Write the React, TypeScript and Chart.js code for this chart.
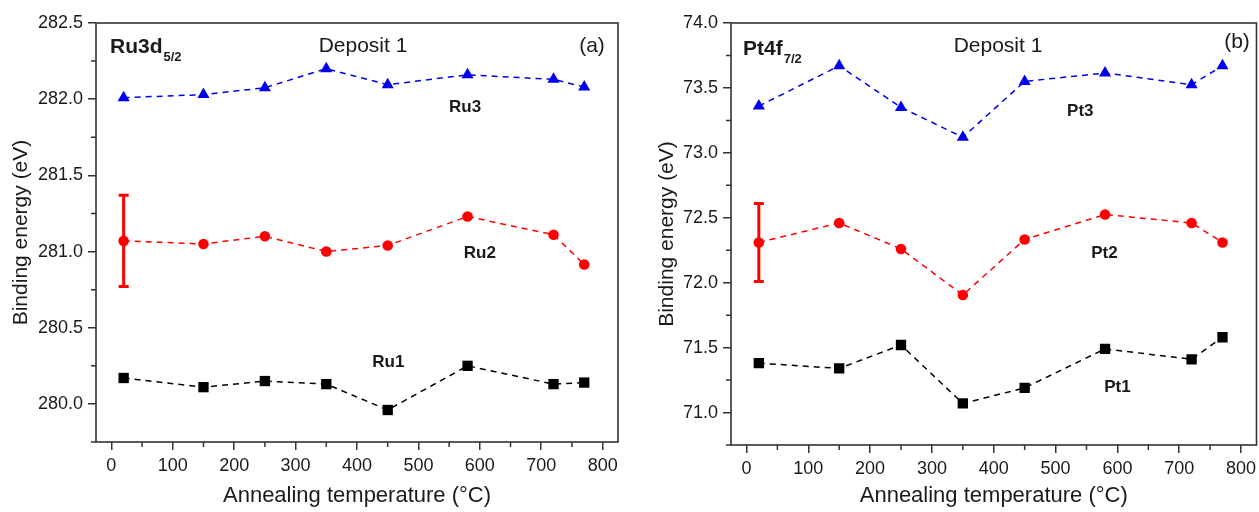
import React, { useEffect, useRef } from 'react';
import { Chart, registerables } from 'chart.js';

Chart.register(...registerables);

const FONT = '"Liberation Sans", Arial, Helvetica, sans-serif';
const TEXT = '#1a1a1a';
const FRAME = '#333333';

// ---------- data ----------
const temps = [20, 150, 250, 350, 450, 580, 720, 770];

const ru1 = [280.17, 280.11, 280.15, 280.13, 279.96, 280.25, 280.13, 280.14];
const ru2 = [281.07, 281.05, 281.1, 281.0, 281.04, 281.23, 281.11, 280.915];
const ru3 = [282.01, 282.03, 282.075, 282.2, 282.095, 282.16, 282.13, 282.08];
const ru2Err = [0.3, 0, 0, 0, 0, 0, 0, 0];

const pt1 = [71.38, 71.34, 71.52, 71.07, 71.19, 71.49, 71.41, 71.58];
const pt2 = [72.31, 72.46, 72.26, 71.905, 72.333, 72.525, 72.46, 72.31];
const pt3 = [73.36, 73.67, 73.35, 73.12, 73.55, 73.615, 73.525, 73.67];
const pt2Err = [0.3, 0, 0, 0, 0, 0, 0, 0];

const xTicks = [0, 100, 200, 300, 400, 500, 600, 700, 800];
const ruYTicks = [280.0, 280.5, 281.0, 281.5, 282.0, 282.5];
const ptYTicks = [71.0, 71.5, 72.0, 72.5, 73.0, 73.5, 74.0];

const xTitle = 'Annealing temperature (°C)';
const yTitle = 'Binding energy (eV)';

type SeriesLabel = { text: string; x: number; y: number };
type Corner = { main: string; sub?: string; dx: number; dy: number; bold?: boolean; align?: 'left' | 'center' };

interface PanelCfg {
  left: number;
  width: number;
  yMin: number;
  yMax: number;
  yTicks: number[];
  s1: number[];
  s2: number[];
  s3: number[];
  err2: number[];
  yAxisWidth: number;
  xAxisHeight: number;
  padRight: number;
  yTitlePad: number;
  labels: SeriesLabel[];
  corners: Corner[];
}

const panels: PanelCfg[] = [
  {
    left: 0,
    width: 630,
    yMin: 279.75,
    yMax: 282.5,
    yTicks: ruYTicks,
    s1: ru1,
    s2: ru2,
    s3: ru3,
    err2: ru2Err,
    yAxisWidth: 96,
    xAxisHeight: 70,
    padRight: 12,
    yTitlePad: 8.4,
    labels: [
      { text: 'Ru3', x: 576, y: 281.948 },
      { text: 'Ru2', x: 600, y: 280.987 },
      { text: 'Ru1', x: 451, y: 280.27 },
    ],
    corners: [
      { main: 'Ru3d', sub: '5/2', dx: 14, dy: 30, bold: true, align: 'left' },
      { main: 'Deposit 1', dx: 267, dy: 29, align: 'center' },
      { main: '(a)', dx: 496, dy: 29, align: 'center' },
    ],
  },
  {
    left: 630,
    width: 629,
    yMin: 70.75,
    yMax: 74.0,
    yTicks: ptYTicks,
    s1: pt1,
    s2: pt2,
    s3: pt3,
    err2: pt2Err,
    yAxisWidth: 101,
    xAxisHeight: 67,
    padRight: 2.5,
    yTitlePad: 24.4,
    labels: [
      { text: 'Pt3', x: 540, y: 73.318 },
      { text: 'Pt2', x: 579, y: 72.225 },
      { text: 'Pt1', x: 600, y: 71.195 },
    ],
    corners: [
      { main: 'Pt4f', sub: '7/2', dx: 12, dy: 32, bold: true, align: 'left' },
      { main: 'Deposit 1', dx: 267, dy: 29, align: 'center' },
      { main: '(b)', dx: 506, dy: 25, align: 'center' },
    ],
  },
];

function makePlugin(cfg: PanelCfg) {
  return {
    id: 'decor',
    beforeDatasetsDraw(chart: any) {
      const { ctx, chartArea: a } = chart;
      const xs = chart.scales.x;
      const ys = chart.scales.y;
      ctx.save();
      ctx.strokeStyle = FRAME;
      ctx.lineWidth = 1.6;
      ctx.strokeRect(a.left, a.top, a.right - a.left, a.bottom - a.top);
      // minor ticks
      ctx.lineWidth = 1.5;
      ctx.beginPath();
      const ystep = cfg.yTicks[1] - cfg.yTicks[0];
      const yMinors: number[] = [];
      cfg.yTicks.forEach((t) => yMinors.push(t - ystep / 2));
      yMinors.push(cfg.yTicks[cfg.yTicks.length - 1] + ystep / 2);
      yMinors.forEach((v) => {
        if (v < cfg.yMin - 1e-9 || v > cfg.yMax + 1e-9) return;
        const py = ys.getPixelForValue(v);
        ctx.moveTo(a.left - 5, py);
        ctx.lineTo(a.left, py);
      });
      const xstep = xTicks[1] - xTicks[0];
      const xMinors: number[] = [];
      xTicks.forEach((t) => xMinors.push(t - xstep / 2));
      xMinors.push(xTicks[xTicks.length - 1] + xstep / 2);
      xMinors.forEach((v) => {
        if (v < xs.min || v > xs.max) return;
        const px = xs.getPixelForValue(v);
        ctx.moveTo(px, a.bottom);
        ctx.lineTo(px, a.bottom + 5);
      });
      ctx.stroke();

      // error bars
      ctx.strokeStyle = '#ff0000';
      ctx.lineWidth = 3;
      cfg.err2.forEach((e, i) => {
        if (!e) return;
        const px = xs.getPixelForValue(temps[i]);
        const top = ys.getPixelForValue(cfg.s2[i] + e);
        const bot = ys.getPixelForValue(cfg.s2[i] - e);
        ctx.beginPath();
        ctx.moveTo(px, top);
        ctx.lineTo(px, bot);
        ctx.moveTo(px - 5, top);
        ctx.lineTo(px + 5, top);
        ctx.moveTo(px - 5, bot);
        ctx.lineTo(px + 5, bot);
        ctx.stroke();
      });
      ctx.restore();
    },
    afterDatasetsDraw(chart: any) {
      const { ctx, chartArea: a } = chart;
      const xs = chart.scales.x;
      const ys = chart.scales.y;
      ctx.save();
      ctx.fillStyle = TEXT;
      ctx.textBaseline = 'middle';
      ctx.textAlign = 'center';
      ctx.font = `bold 17px ${FONT}`;
      cfg.labels.forEach((l) => {
        ctx.fillText(l.text, xs.getPixelForValue(l.x), ys.getPixelForValue(l.y));
      });
      ctx.textBaseline = 'alphabetic';
      cfg.corners.forEach((c) => {
        ctx.font = `${c.bold ? 'bold ' : ''}21px ${FONT}`;
        ctx.textAlign = c.align || 'left';
        const x = a.left + c.dx;
        const y = a.top + c.dy;
        ctx.fillText(c.main, x, y);
        if (c.sub) {
          const w = ctx.measureText(c.main).width;
          ctx.font = `bold 13px ${FONT}`;
          ctx.textAlign = 'left';
          ctx.fillText(c.sub, x + w + 1, y + 8);
        }
      });
      ctx.restore();
    },
  };
}

function Panel({ cfg }: { cfg: PanelCfg }) {
  const ref = useRef<HTMLCanvasElement | null>(null);
  useEffect(() => {
    if (!ref.current) return;
    const ds = (vals: number[], color: string, style: string, radius: number) => ({
      data: temps.map((t, i) => ({ x: t, y: vals[i] })),
      borderColor: color,
      backgroundColor: color,
      borderWidth: 1.5,
      borderDash: [6, 5],
      showLine: true,
      pointStyle: style,
      pointRadius: radius,
      pointBorderWidth: 0,
      pointBackgroundColor: color,
      tension: 0,
    });
    const chart = new Chart(ref.current, {
      type: 'scatter',
      data: {
        datasets: [
          ds(cfg.s1, '#000000', 'rect', 7.3),
          ds(cfg.s2, '#ff0000', 'circle', 5.3),
          ds(cfg.s3, '#0000ee', 'triangle', 7),
        ] as any,
      },
      options: {
        responsive: false,
        animation: false,
        devicePixelRatio: 1,
        layout: { autoPadding: false, padding: { left: 0, top: 23, right: cfg.padRight, bottom: 0 } },
        plugins: { legend: { display: false }, tooltip: { enabled: false } },
        scales: {
          x: {
            type: 'linear',
            min: -25,
            max: 825,
            afterBuildTicks: (s: any) => {
              s.ticks = xTicks.map((v) => ({ value: v }));
            },
            afterFit: (s: any) => {
              s.height = cfg.xAxisHeight;
              s.paddingLeft = 0;
              s.paddingRight = 0;
            },
            grid: { display: true, drawOnChartArea: false, drawTicks: true, tickLength: 8, color: FRAME, lineWidth: 1.5 },
            border: { display: false },
            ticks: {
              padding: 5,
              maxRotation: 0,
              autoSkip: false,
              color: TEXT,
              font: { family: FONT, size: 18 },
              callback: (v: any) => String(v),
            },
            title: {
              display: true,
              text: xTitle,
              color: TEXT,
              font: { family: FONT, size: 22 },
              padding: { top: 0, bottom: 2.8 },
            },
          },
          y: {
            type: 'linear',
            min: cfg.yMin,
            max: cfg.yMax,
            afterBuildTicks: (s: any) => {
              s.ticks = cfg.yTicks.map((v) => ({ value: v }));
            },
            afterFit: (s: any) => {
              s.width = cfg.yAxisWidth;
              s.paddingTop = 0;
              s.paddingBottom = 0;
            },
            grid: { display: true, drawOnChartArea: false, drawTicks: true, tickLength: 8, color: FRAME, lineWidth: 1.5 },
            border: { display: false },
            ticks: {
              padding: 5,
              autoSkip: false,
              color: TEXT,
              font: { family: FONT, size: 18 },
              callback: (v: any) => Number(v).toFixed(1),
            },
            title: {
              display: true,
              text: yTitle,
              color: TEXT,
              font: { family: FONT, size: 21 },
              padding: { top: cfg.yTitlePad, bottom: 0 },
            },
          },
        },
      } as any,
      plugins: [makePlugin(cfg)],
    });
    return () => chart.destroy();
  }, [cfg]);
  return (
    <canvas
      ref={ref}
      width={cfg.width}
      height={512}
      style={{ position: 'absolute', left: cfg.left, top: 0, width: cfg.width, height: 512, display: 'block' }}
    />
  );
}

export default function App() {
  return (
    <div style={{ position: 'absolute', left: 0, top: 0, width: 1259, height: 512, background: '#ffffff', overflow: 'hidden' }}>
      {panels.map((p, i) => (
        <Panel key={i} cfg={p} />
      ))}
    </div>
  );
}
